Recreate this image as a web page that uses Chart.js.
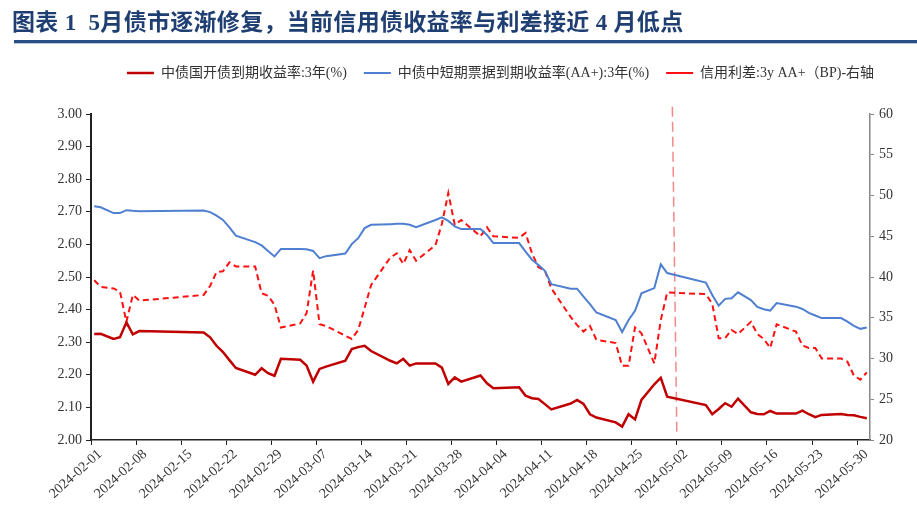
<!DOCTYPE html>
<html>
<head>
<meta charset="utf-8">
<script src="https://cdn.jsdelivr.net/npm/chart.js@4.4.1/dist/chart.umd.min.js"></script>
<style>
  html, body { margin: 0; padding: 0; background: #ffffff; }
  #wrap { position: relative; width: 917px; height: 513px; overflow: hidden; background: #fff; }
  #title { position: absolute; left: 12px; top: 3px; font-family: 'Liberation Serif', 'Noto Sans CJK SC', serif; font-weight: bold; font-size: 23px; color: #1f3f73; white-space: nowrap; letter-spacing: 0.3px; }
  #rule { position: absolute; left: 14px; right: 0; top: 40px; height: 3px; background: #2a4f86; }
  #rule2 { position: absolute; left: 14px; right: 0; top: 43px; height: 1px; background: #b9c6da; }
  canvas { position: absolute; left: 0; top: 0; }
</style>
</head>
<body>
<div id="wrap">
  <canvas id="c" width="917" height="513"></canvas>
  <div id="title">图表 1&nbsp; 5月债市逐渐修复，当前信用债收益率与利差接近 4 月低点</div>
  <div id="rule"></div>
  <div id="rule2"></div>
</div>
<script>
// ---- data ----
const dates = ['2024-02-01','2024-02-02','2024-02-04','2024-02-05','2024-02-06','2024-02-07','2024-02-08','2024-02-18','2024-02-19','2024-02-20','2024-02-21','2024-02-22','2024-02-23','2024-02-26','2024-02-27','2024-02-28','2024-02-29',
'2024-03-01','2024-03-04','2024-03-05','2024-03-06','2024-03-07','2024-03-08','2024-03-11','2024-03-12','2024-03-13','2024-03-14','2024-03-15','2024-03-18','2024-03-19','2024-03-20','2024-03-21','2024-03-22','2024-03-25','2024-03-26','2024-03-27','2024-03-28','2024-03-29',
'2024-04-01','2024-04-02','2024-04-03','2024-04-07','2024-04-08','2024-04-09','2024-04-10','2024-04-11','2024-04-12','2024-04-15','2024-04-16','2024-04-17','2024-04-18','2024-04-19','2024-04-22','2024-04-23','2024-04-24','2024-04-25','2024-04-26','2024-04-28','2024-04-29','2024-04-30',
'2024-05-06','2024-05-07','2024-05-08','2024-05-09','2024-05-10','2024-05-11','2024-05-13','2024-05-14','2024-05-15','2024-05-16','2024-05-17','2024-05-20','2024-05-21','2024-05-22','2024-05-23','2024-05-24','2024-05-27','2024-05-28','2024-05-29','2024-05-30','2024-05-31'];

const cdbYield = [2.325,2.326,2.310,2.315,2.361,2.324,2.334,2.330,2.315,2.289,2.270,2.245,2.221,2.200,2.220,2.205,2.197,
2.249,2.246,2.228,2.179,2.218,2.225,2.243,2.279,2.285,2.289,2.273,2.243,2.235,2.249,2.228,2.235,2.235,2.222,2.172,2.192,2.179,
2.198,2.174,2.159,2.162,2.136,2.128,2.126,2.110,2.094,2.112,2.123,2.111,2.079,2.069,2.054,2.041,2.079,2.063,2.123,2.171,2.191,2.133,
2.107,2.079,2.095,2.113,2.102,2.127,2.085,2.080,2.079,2.089,2.081,2.081,2.090,2.079,2.070,2.077,2.080,2.077,2.076,2.071,2.067];

const mtnYield = [2.717,2.714,2.696,2.696,2.705,2.703,2.702,2.704,2.699,2.688,2.675,2.652,2.627,2.607,2.597,2.580,2.563,
2.586,2.586,2.585,2.580,2.558,2.564,2.572,2.601,2.619,2.650,2.660,2.662,2.663,2.663,2.660,2.653,2.675,2.683,2.672,2.655,2.647,
2.647,2.629,2.604,2.604,2.578,2.553,2.537,2.519,2.478,2.464,2.464,2.440,2.417,2.391,2.368,2.331,2.368,2.396,2.450,2.466,2.539,2.512,
2.483,2.445,2.412,2.433,2.435,2.453,2.429,2.408,2.401,2.397,2.420,2.409,2.402,2.390,2.382,2.374,2.374,2.363,2.350,2.341,2.345];

const creditSpread = [39.6,38.8,38.6,38.2,34.5,37.8,37.1,37.8,38.9,40.6,40.7,41.8,41.3,41.3,38.0,37.7,36.6,
33.8,34.3,35.6,40.8,34.2,34.0,32.8,32.4,33.5,36.2,39.0,42.4,42.9,41.6,43.3,42.0,43.9,46.5,50.3,46.4,47.0,
45.0,46.1,45.0,44.8,45.4,42.9,41.2,40.8,38.6,35.1,34.1,33.3,34.0,32.3,31.9,29.1,29.1,33.8,33.1,29.4,34.7,38.1,
37.9,36.7,32.5,32.5,33.5,33.0,34.5,33.0,32.4,31.3,34.2,33.3,31.6,31.3,31.3,30.0,30.0,29.6,27.9,27.4,28.3];

const tickLabels = ['2024-02-01','2024-02-08','2024-02-15','2024-02-22','2024-02-29','2024-03-07','2024-03-14','2024-03-21','2024-03-28','2024-04-04','2024-04-11','2024-04-18','2024-04-25','2024-05-02','2024-05-09','2024-05-16','2024-05-23','2024-05-30'];
const seriesNames = ['中债国开债到期收益率:3年(%)','中债中短期票据到期收益率(AA+):3年(%)','信用利差:3y AA+（BP)-右轴'];
const markerDate = '2024-05-02';

// ---- helpers ----
const START = Date.UTC(2024, 1, 1);
function dayOf(s) { const p = s.split('-').map(Number); return Math.round((Date.UTC(p[0], p[1] - 1, p[2]) - START) / 86400000); }
function pts(vals) { return vals.map((v, i) => ({ x: dayOf(dates[i]) + 0.5, y: v })); }
const tickValues = tickLabels.map(dayOf);
const labelByValue = {}; tickLabels.forEach(l => labelByValue[dayOf(l)] = l);
const mk = dayOf(markerDate);

const serif = "'Liberation Serif', 'Times New Roman', serif";
const legendFont = "'Liberation Serif', 'Noto Sans CJK SC', serif";

const legendShift = {
  id: 'legendShift',
  afterLayout(chart) {
    const l = chart.legend; if (!l) return;
    l.top -= 24; l.bottom -= 24; l.left += 42; l.right += 42;
  }
};

new Chart(document.getElementById('c'), {
  type: 'line',
  data: {
    datasets: [
      { label: seriesNames[0], data: pts(cdbYield), yAxisID: 'y', borderColor: '#c00000', borderWidth: 2.5, pointRadius: 0, tension: 0, order: 1 },
      { label: seriesNames[1], data: pts(mtnYield), yAxisID: 'y', borderColor: '#4f7fd0', borderWidth: 2, pointRadius: 0, tension: 0, order: 2 },
      { label: seriesNames[2], data: pts(creditSpread), yAxisID: 'y1', borderColor: '#ff1010', borderWidth: 2, borderDash: [6, 4], pointRadius: 0, tension: 0, order: 3 },
      { label: 'marker', data: [{ x: mk - 0.7, y: 60.9 }, { x: mk, y: 20.6 }], yAxisID: 'y1', borderColor: '#f28a8a', borderWidth: 1.5, borderDash: [10, 5], pointRadius: 0, clip: false, order: 4 }
    ]
  },
  options: {
    responsive: false,
    animation: false,
    devicePixelRatio: 1,
    layout: { padding: { top: 73, left: 0, right: 0, bottom: 0 } },
    plugins: {
      legend: {
        position: 'top',
        labels: {
          usePointStyle: true, pointStyle: 'line', pointStyleWidth: 27,
          padding: 17, color: '#333',
          font: { family: legendFont, size: 14 },
          filter: (item) => item.text !== 'marker'
        }
      },
      tooltip: { enabled: false }
    },
    scales: {
      x: {
        type: 'linear', min: 0, max: 121,
        afterBuildTicks: (s) => { s.ticks = tickValues.map(v => ({ value: v })); },
        afterFit: (s) => { s.height = 73; },
        grid: { display: true, drawOnChartArea: false, drawTicks: true, tickLength: 5, color: '#222', lineWidth: 1 },
        border: { display: true, color: '#222', width: 1.5 },
        ticks: {
          autoSkip: false, maxRotation: 42, minRotation: 42, labelOffset: 9, padding: 1,
          color: '#333', font: { family: serif, size: 14 },
          callback: (v) => labelByValue[v] || ''
        }
      },
      y: {
        position: 'left', min: 2, max: 3,
        afterFit: (s) => { s.width = 91; },
        grid: { display: true, drawOnChartArea: false, drawTicks: true, tickLength: 5, color: '#222' },
        border: { display: true, color: '#222', width: 2 },
        ticks: { stepSize: 0.1, padding: 4, color: '#333', font: { family: serif, size: 14 }, callback: (v) => Number(v).toFixed(2) }
      },
      y1: {
        position: 'right', min: 20, max: 60,
        afterFit: (s) => { s.width = 47; },
        grid: { display: true, drawOnChartArea: false, drawTicks: true, tickLength: 4, color: '#888' },
        border: { display: true, color: '#888', width: 1.5 },
        ticks: { stepSize: 5, padding: 5, color: '#333', font: { family: serif, size: 14 } }
      }
    }
  },
  plugins: [legendShift]
});
</script>
</body>
</html>
